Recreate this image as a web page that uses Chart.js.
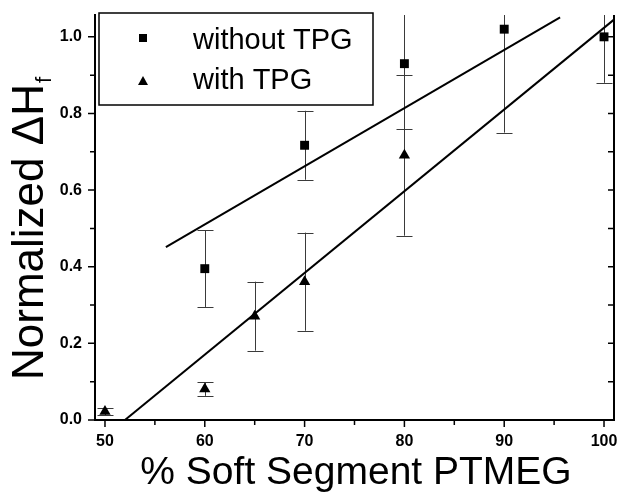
<!DOCTYPE html>
<html>
<head>
<meta charset="utf-8">
<script src="https://cdn.jsdelivr.net/npm/chart.js@4.4.1/dist/chart.umd.min.js"></script>
<style>
  html, body { margin: 0; padding: 0; background: #fff; overflow: hidden; }
  canvas { display: block; }
</style>
</head>
<body>
<canvas id="c" width="622" height="493"></canvas>
<script>
// ---- data ----
const sqX   = [60, 70, 80, 90, 100];
const sqY   = [0.395, 0.717, 0.930, 1.020, 1.000];
const sqErr = [0.100, 0.090, 0.170, 0.270, 0.120];

const triX   = [50, 60, 65, 70, 80];
const triY   = [0.022, 0.081, 0.271, 0.361, 0.691];
const triErr = [0.010, 0.018, 0.090, 0.128, 0.210];

const fitNoX = [56.1, 95.6];
const fitNoY = [0.451, 1.051];
const fitWX  = [52.0, 101.0];
const fitWY  = [0.000, 1.045];

const xTicks = [50, 60, 70, 80, 90, 100];
const xMinor = [55, 65, 75, 85, 95];
const yTicks = [0.0, 0.2, 0.4, 0.6, 0.8, 1.0];
const yMinor = [0.1, 0.3, 0.5, 0.7, 0.9];

const seriesLabels = ['without TPG', 'with TPG'];
const xTitle = '% Soft Segment PTMEG';
const yTitle = 'Normalized \u0394H';
const yTitleSub = 'f';

const FONT = '"Liberation Sans", Arial, Helvetica, sans-serif';

const pts = (xs, ys) => xs.map((x, i) => ({ x: x, y: ys[i] }));

const decor = {
  id: 'decor',
  beforeDatasetsDraw(chart) {
    const { ctx, chartArea: a, scales: { x, y } } = chart;
    ctx.save();
    ctx.beginPath();
    ctx.rect(a.left, a.top, a.right - a.left, a.bottom - a.top);
    ctx.clip();
    ctx.strokeStyle = '#3a3a3a';
    ctx.lineWidth = 1;
    [0, 1].forEach(di => {
      const ds = chart.data.datasets[di];
      ds.data.forEach((p, i) => {
        const e = ds.errors[i];
        const px = Math.round(x.getPixelForValue(p.x)) + 0.5;
        const pt = y.getPixelForValue(p.y + e);
        const pb = y.getPixelForValue(p.y - e);
        ctx.beginPath();
        ctx.moveTo(px, pt); ctx.lineTo(px, pb);
        ctx.moveTo(px - 8, Math.round(pt) + 0.5); ctx.lineTo(px + 8, Math.round(pt) + 0.5);
        ctx.moveTo(px - 8, Math.round(pb) + 0.5); ctx.lineTo(px + 8, Math.round(pb) + 0.5);
        ctx.stroke();
      });
    });
    ctx.restore();
  },
  afterDraw(chart) {
    const { ctx, chartArea: a, scales: { x, y } } = chart;
    ctx.save();
    ctx.strokeStyle = '#000';
    ctx.lineWidth = 2;
    ctx.beginPath();
    ctx.moveTo(a.right, a.top); ctx.lineTo(a.right, a.bottom + 1);
    ctx.stroke();
    ctx.lineWidth = 1.5;
    ctx.beginPath();
    yTicks.forEach(v => { const p = y.getPixelForValue(v); ctx.moveTo(a.left - 7, p); ctx.lineTo(a.left, p); });
    yMinor.forEach(v => { const p = y.getPixelForValue(v); ctx.moveTo(a.left - 5, p); ctx.lineTo(a.left, p); });
    yTicks.concat(yMinor).forEach(v => { const p = y.getPixelForValue(v); ctx.moveTo(a.right - 6, p); ctx.lineTo(a.right, p); });
    xTicks.forEach(v => { const p = x.getPixelForValue(v); ctx.moveTo(p, a.bottom); ctx.lineTo(p, a.bottom + 7); });
    xMinor.forEach(v => { const p = x.getPixelForValue(v); ctx.moveTo(p, a.bottom); ctx.lineTo(p, a.bottom + 5); });
    ctx.stroke();

    ctx.fillStyle = '#000';
    ctx.font = '39px ' + FONT;
    ctx.textAlign = 'center';
    ctx.textBaseline = 'alphabetic';
    ctx.fillText(xTitle, 356, 484);

    ctx.save();
    ctx.translate(43, 380);
    ctx.rotate(-Math.PI / 2);
    ctx.font = '44px ' + FONT;
    ctx.textAlign = 'left';
    ctx.fillText(yTitle, 0, 0);
    const w = ctx.measureText(yTitle).width;
    ctx.font = '22px ' + FONT;
    ctx.fillText(yTitleSub, w + 1, 8);
    ctx.restore();

    ctx.lineWidth = 1.5;
    ctx.fillStyle = '#fff';
    ctx.fillRect(99, 13, 274, 92);
    ctx.strokeRect(99, 13, 274, 92);
    ctx.fillStyle = '#000';
    ctx.fillRect(139, 34, 8, 8);
    ctx.beginPath();
    ctx.moveTo(143, 76); ctx.lineTo(148, 85); ctx.lineTo(138, 85); ctx.closePath();
    ctx.fill();
    ctx.font = '29px ' + FONT;
    ctx.textAlign = 'left';
    ctx.textBaseline = 'alphabetic';
    ctx.fillText(seriesLabels[0], 193, 49);
    ctx.fillText(seriesLabels[1], 193, 89);
    ctx.restore();
  }
};

new Chart(document.getElementById('c'), {
  type: 'scatter',
  data: {
    datasets: [
      { label: seriesLabels[0], data: pts(sqX, sqY), errors: sqErr,
        pointStyle: 'rect', pointRadius: 6.3, backgroundColor: '#000', borderColor: '#000', borderWidth: 0 },
      { label: seriesLabels[1], data: pts(triX, triY), errors: triErr,
        pointStyle: 'triangle', pointRadius: 6.5, backgroundColor: '#000', borderColor: '#000', borderWidth: 0 },
      { label: 'fit without', data: pts(fitNoX, fitNoY), showLine: true, pointRadius: 0,
        borderColor: '#000', borderWidth: 2, fill: false },
      { label: 'fit with', data: pts(fitWX, fitWY), showLine: true, pointRadius: 0,
        borderColor: '#000', borderWidth: 2, fill: false }
    ]
  },
  options: {
    responsive: false,
    animation: false,
    layout: { padding: { top: 15, right: 8, left: 0, bottom: 0 } },
    plugins: { legend: { display: false }, tooltip: { enabled: false } },
    scales: {
      x: {
        type: 'linear', min: 49, max: 101,
        afterFit(s) { s.height = 73; s.paddingLeft = 0; s.paddingRight = 0; },
        afterBuildTicks(s) { s.ticks = xTicks.map(v => ({ value: v })); },
        grid: { display: false },
        border: { display: true, color: '#000', width: 2 },
        ticks: { color: '#000', font: { family: FONT, size: 16, weight: 'bold' }, padding: 4,
                 maxRotation: 0, autoSkip: false, callback: v => String(v) }
      },
      y: {
        type: 'linear', min: 0, max: 1.057,
        afterFit(s) { s.width = 95; s.paddingTop = 0; s.paddingBottom = 0; },
        afterBuildTicks(s) { s.ticks = yTicks.map(v => ({ value: v })); },
        grid: { display: false },
        border: { display: true, color: '#000', width: 2 },
        ticks: { color: '#000', font: { family: FONT, size: 16, weight: 'bold' }, padding: 5,
                 autoSkip: false, callback: v => Number(v).toFixed(1) }
      }
    }
  },
  plugins: [decor]
});
</script>
</body>
</html>
